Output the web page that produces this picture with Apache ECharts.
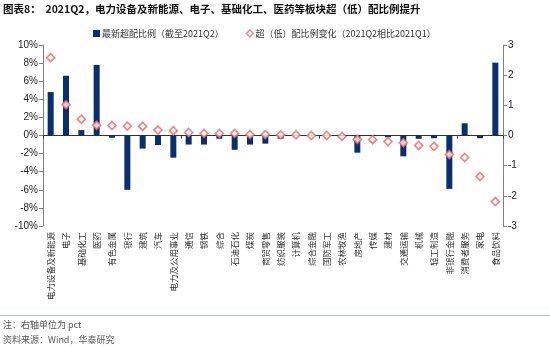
<!DOCTYPE html>
<html>
<head>
<meta charset="utf-8">
<script src="https://cdn.jsdelivr.net/npm/echarts@6/dist/echarts.min.js"></script>
<style>
  html, body { margin: 0; padding: 0; background: #fff; }
  #chart { width: 550px; height: 348px; }
</style>
</head>
<body>
<div id="chart"></div>
<script>
// Industry sectors, ordered by change in over/under-weight
const categories = [
  '电力设备及新能源', '电子', '基础化工', '医药', '有色金属', '银行', '建筑', '汽车',
  '电力及公用事业', '通信', '钢铁', '综合', '石油石化', '煤炭', '商贸零售', '纺织服装',
  '计算机', '综合金融', '国防军工', '农林牧渔', '房地产', '传媒', '建材', '交通运输',
  '机械', '轻工制造', '非银行金融', '消费者服务', '家电', '食品饮料'
];

// Latest over-weight ratio (%) as of 2021Q2 — left axis
const overweightRatio = [
  4.8, 6.6, 0.6, 7.8, -0.25, -6.0, -1.45, -1.05,
  -2.45, -1.0, -1.0, -0.35, -1.58, -1.0, -0.9, -0.35,
  -0.04, 0.03, -0.03, -0.05, -1.9, -0.06, -0.2, -2.3,
  -0.37, -0.3, -5.9, 1.35, -0.3, 8.05
];

// Change of over/under-weight ratio, 2021Q2 vs 2021Q1 (pct) — right axis
const ratioChange = [
  2.58, 1.02, 0.54, 0.34, 0.33, 0.31, 0.30, 0.18,
  0.16, 0.10, 0.07, 0.07, 0.07, 0.03, 0.03, 0.02,
  0.02, 0.0, 0.0, -0.03, -0.13, -0.14, -0.2, -0.24,
  -0.33, -0.36, -0.63, -0.73, -1.36, -2.19
];

const leftTicks = { min: -10, max: 10, step: 2 };
const rightTicks = { min: -3, max: 3, step: 1 };

const barName = '最新超配比例（截至2021Q2）';
const dotName = '超（低）配比例变化（2021Q2相比2021Q1）';

const cjk = '"Noto Sans CJK SC", "Liberation Sans", sans-serif';
const num = '"Liberation Sans", Arial, sans-serif';
const navy = '#0a2f6e';
const pink = '#f26666';
const axisGray = '#808080';

const chart = echarts.init(document.getElementById('chart'), null, { renderer: 'canvas' });

chart.setOption({
  animation: false,
  backgroundColor: '#fff',
  grid: { left: 43, right: 47, top: 45, bottom: 122, containLabel: false },
  graphic: [
    {
      type: 'text', left: 3, top: 4,
      style: {
        text: '图表8：  2021Q2，电力设备及新能源、电子、基础化工、医药等板块超（低）配比例提升',
        font: 'bold 10.5px ' + cjk, fill: '#111'
      }
    },
    {
      type: 'line', shape: { x1: 0, y1: 315.5, x2: 550, y2: 315.5 },
      style: { stroke: '#a9bfdc', lineWidth: 1.2 }
    },
    {
      type: 'text', left: 3, top: 320,
      style: { text: '注：右轴单位为 pct', font: '9px ' + cjk, fill: '#555' }
    },
    {
      type: 'text', left: 3, top: 335,
      style: { text: '资料来源：Wind，华泰研究', font: '9px ' + cjk, fill: '#555' }
    }
  ],
  legend: {
    top: 24, left: 88, itemGap: 22, itemWidth: 7, itemHeight: 7,
    textStyle: { fontFamily: cjk, fontSize: 9, color: '#333', padding: [0, 0, 0, -3] },
    data: [
      { name: barName, icon: 'rect' },
      { name: dotName, icon: 'diamond', itemStyle: { color: '#fff', borderColor: pink, borderWidth: 1.5 } }
    ]
  },
  xAxis: [
    {
      type: 'category', data: categories, position: 'bottom',
      axisLine: { show: false, onZero: false }, axisTick: { show: false },
      axisLabel: {
        rotate: 90, interval: 0, margin: 6, fontFamily: cjk, fontSize: 8.5, color: '#333'
      }
    },
    {
      type: 'category', data: categories, position: 'bottom',
      axisLine: { show: true, onZero: true, onZeroAxisIndex: 0, lineStyle: { color: '#333', width: 1 } },
      axisTick: { show: true, length: 3, lineStyle: { color: '#333' } },
      axisLabel: { show: false }
    }
  ],
  yAxis: [
    {
      type: 'value', position: 'left',
      min: leftTicks.min, max: leftTicks.max, interval: leftTicks.step,
      splitLine: { show: false },
      axisLine: { show: true, lineStyle: { color: axisGray } },
      axisTick: { show: true, length: 4, lineStyle: { color: axisGray } },
      axisLabel: { formatter: '{value}%', fontFamily: num, fontSize: 10, color: '#222', margin: 5 }
    },
    {
      type: 'value', position: 'right',
      min: rightTicks.min, max: rightTicks.max, interval: rightTicks.step,
      splitLine: { show: false },
      axisLine: { show: true, lineStyle: { color: axisGray } },
      axisTick: { show: true, length: 4, lineStyle: { color: axisGray } },
      axisLabel: { fontFamily: num, fontSize: 10, color: '#222', margin: 5 }
    }
  ],
  series: [
    {
      name: barName, type: 'bar', xAxisIndex: 0, yAxisIndex: 0,
      data: overweightRatio, barWidth: 6,
      itemStyle: { color: navy }
    },
    {
      name: dotName, type: 'scatter', xAxisIndex: 0, yAxisIndex: 1,
      data: ratioChange, symbol: 'diamond', symbolSize: 8,
      itemStyle: { color: '#fff', borderColor: pink, borderWidth: 1.7 },
      z: 5
    }
  ]
});
</script>
</body>
</html>
